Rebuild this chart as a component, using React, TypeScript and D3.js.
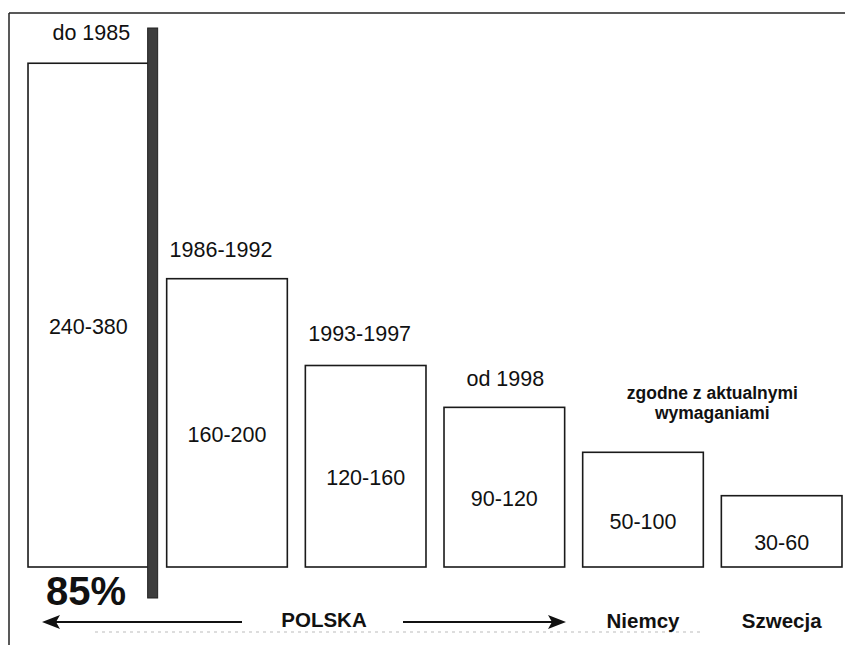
import React from "react";
import * as d3 from "d3";

const categories = ["do 1985", "1986-1992", "1993-1997", "od 1998", "Niemcy", "Szwecja"];
const topLabels = ["do 1985", "1986-1992", "1993-1997", "od 1998", "", ""];
const rangeLabels = ["240-380", "160-200", "120-160", "90-120", "50-100", "30-60"];
const barValues = [325, 186, 130, 103, 74, 46];
const countryLabels = ["Niemcy", "Szwecja"];
const noteLines = ["zgodne z aktualnymi", "wymaganiami"];
const shareLabel = "85%";
const polandLabel = "POLSKA";

const W = 845;
const H = 645;
const FONT = "'Liberation Sans', Arial, Helvetica, sans-serif";

function arrowHead(tipX: number, yy: number, dir: number) {
  const L = 18;
  const h = 7;
  const back = tipX - dir * L;
  const notch = tipX - dir * (L - 4);
  return `M${tipX},${yy} L${back},${yy - h} L${notch},${yy} L${back},${yy + h} Z`;
}

export default function App() {
  const x = d3
    .scaleBand<string>()
    .domain(categories)
    .range([19, 851])
    .paddingInner(0.13)
    .paddingOuter(0.065);
  const baseY = 567;
  const y = d3.scaleLinear().domain([0, 400]).range([baseY, baseY - 620]);
  const bw = x.bandwidth();
  const topOffsets = [30, 29, 32, 28];
  const topDx = [3, -6, -6, 1];

  const firstRight = (x(categories[0]) as number) + bw;
  const c5 = (x(categories[4]) as number) + bw / 2;
  const c6 = (x(categories[5]) as number) + bw / 2;
  const arrowY = 622;

  return (
    <svg
      width={W}
      height={H}
      style={{ position: "absolute", left: 0, top: 0, background: "#fff" }}
      fontFamily={FONT}
    >
      <rect x={0} y={0} width={W} height={H} fill="#fff" />
      {/* frame */}
      <line x1={9} y1={13} x2={W} y2={13} stroke="#222" strokeWidth={1.5} />
      <line x1={9} y1={13} x2={9} y2={H} stroke="#222" strokeWidth={1.5} />
      <line x1={95} y1={632} x2={700} y2={632} stroke="#bbb" strokeWidth={1} strokeDasharray="3 4" />

      {categories.map((c, i) => {
        const bx = x(c) as number;
        const by = y(barValues[i]);
        const bh = baseY - by;
        const cx = bx + bw / 2;
        return (
          <g key={c}>
            <rect x={bx} y={by} width={bw} height={bh} fill="#fff" stroke="#1a1a1a" strokeWidth={1.6} />
            <text x={cx} y={by + bh / 2 + 12} textAnchor="middle" dominantBaseline="central" fontSize={21.5} fill="#111">
              {rangeLabels[i]}
            </text>
            {topLabels[i] ? (
              <text x={cx + topDx[i]} y={by - topOffsets[i]} textAnchor="middle" dominantBaseline="central" fontSize={21.5} fill="#111">
                {topLabels[i]}
              </text>
            ) : null}
          </g>
        );
      })}

      {/* dark divider bar */}
      <rect x={firstRight - 1} y={28} width={10} height={570} fill="#3d3d3d" stroke="#222" strokeWidth={1} />

      {/* note */}
      {noteLines.map((t, i) => (
        <text key={t} x={(c5 + c6) / 2} y={393 + i * 20} textAnchor="middle" dominantBaseline="central" fontSize={17.5} fontWeight="bold" fill="#111">
          {t}
        </text>
      ))}

      <text x={46} y={605} fontSize={40} fontWeight="bold" fill="#111">
        {shareLabel}
      </text>

      {/* arrows */}
      <line x1={242} y1={arrowY} x2={50} y2={arrowY} stroke="#111" strokeWidth={2} />
      <path d={arrowHead(42, arrowY, -1)} fill="#111" />
      <line x1={403} y1={arrowY} x2={558} y2={arrowY} stroke="#111" strokeWidth={2} />
      <path d={arrowHead(566, arrowY, 1)} fill="#111" />
      <text x={324} y={619} textAnchor="middle" dominantBaseline="central" fontSize={20.5} fontWeight="bold" fill="#111">
        {polandLabel}
      </text>
      {countryLabels.map((t, i) => (
        <text key={t} x={[c5, c6][i]} y={620} textAnchor="middle" dominantBaseline="central" fontSize={20.5} fontWeight="bold" fill="#111">
          {t}
        </text>
      ))}
    </svg>
  );
}
